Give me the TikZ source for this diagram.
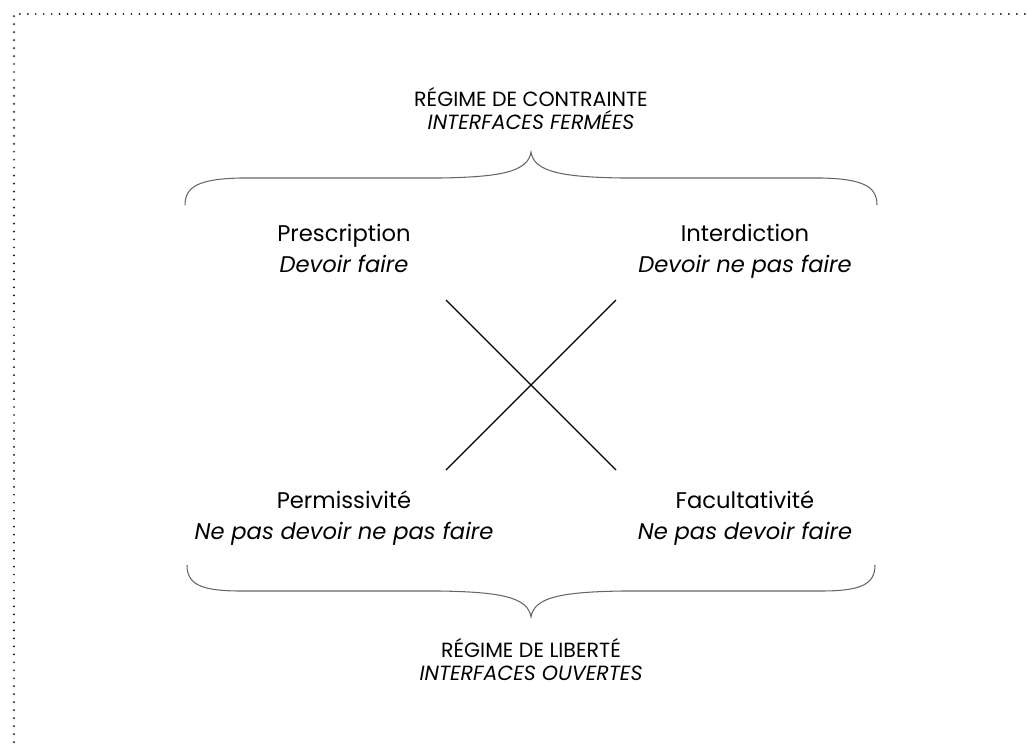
\documentclass[tikz,border=0pt]{standalone}
\usepackage{fontspec}
\setmainfont{Poppins}
\usetikzlibrary{positioning}
\newcommand\tightlines{\lineskiplimit=-20pt\relax}

\begin{document}
\begin{tikzpicture}[x=0.02cm,y=-0.02cm,
  quad/.style={align=center,inner sep=0pt,font=\fontsize{12.9}{17.6}\selectfont},
  regime/.style={align=center,inner sep=0pt,font=\fontsize{11.7}{13.2}\selectfont\tightlines},
  brace/.style={draw=black!60,line width=0.6pt},
  cross/.style={draw=black,line width=0.7pt},
  frame/.style={draw=black,line width=1.1pt,line cap=round,dash pattern=on 0pt off 4.54pt}]
\useasboundingbox (0,0) rectangle (1027,745);

\def\xa{344};
\def\xb{531};
\def\xc{745};

\def\ya{112};
\def\yb{251};
\def\yc{518};
\def\yd{663};

\draw[frame] (14,750) -- (14,14) -- (1030,14);

\node[regime] (top) at (\xb, \ya) {\strut RÉGIME DE CONTRAINTE\\\strut\textit{INTERFACES FERMÉES}};
\node[quad] (presc) at (\xa, \yb) {\strut Prescription\\\strut\textit{Devoir faire}};
\node[quad] (inter) at (\xc, \yb) {\strut Interdiction\\\strut\textit{Devoir ne pas faire}};
\node[quad] (perm) at (\xa, \yc) {\strut Permissivité\\\strut\textit{Ne pas devoir ne pas faire}};
\node[quad] (facul) at (\xc, \yc) {\strut Facultativité\\\strut\textit{Ne pas devoir faire}};
\node[regime] (bot) at (\xb, \yd) {\strut RÉGIME DE LIBERTÉ\\\strut\textit{INTERFACES OUVERTES}};

\coordinate (nw) at (446, 300);
\coordinate (ne) at (616, 300);
\coordinate (sw) at (446, 470);
\coordinate (se) at (616, 470);
\draw[cross] (nw) -- (se);
\draw[cross] (ne) -- (sw);

\draw[brace] (185,205) .. controls (185,186) and (200,179) .. (240,178) -- (440,178)
  .. controls (500,177) and (528,172) .. (531,152)
  .. controls (534,172) and (562,177) .. (622,178) -- (822,178)
  .. controls (862,179) and (877,186) .. (877,205);
\draw[brace] (187,565) .. controls (187,585) and (202,591) .. (242,591) -- (440,591)
  .. controls (500,592) and (528,597) .. (531,617)
  .. controls (534,597) and (562,592) .. (622,591) -- (820,591)
  .. controls (860,591) and (875,585) .. (875,565);

\end{tikzpicture}
\end{document}
